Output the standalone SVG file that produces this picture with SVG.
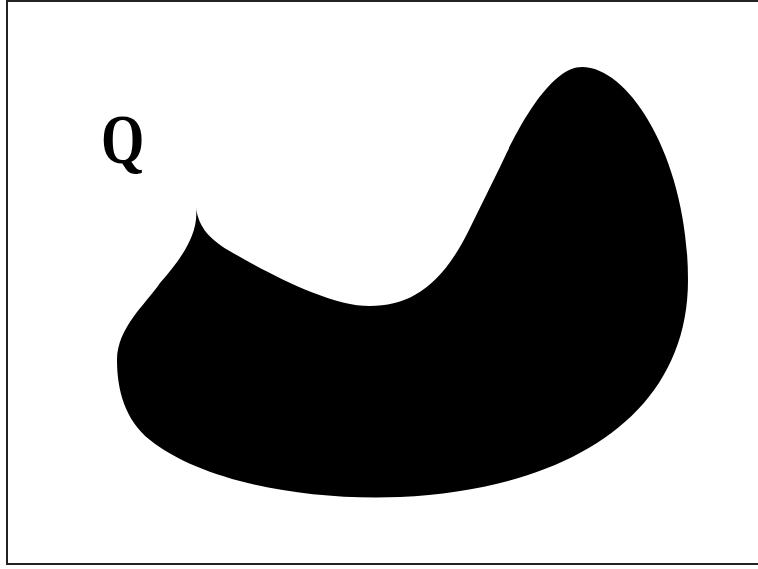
<svg xmlns="http://www.w3.org/2000/svg" width="758" height="569" viewBox="0 0 758 569">
<style>
.frame{fill:#fff;stroke:#222;stroke-width:2}
.blob{fill:#000;stroke:none}
.lbl{font-family:'Liberation Serif','Times New Roman',Times,serif;font-weight:700;font-size:64px;fill:#000}
</style>
<rect class="frame" x="7" y="1" width="760" height="563"/>
<g id="blob">
<path class="blob" d="M196,208 C199,228 210,240 233,253 C270,274 330,306 370,306 C408,306 440,288 468,232 L500,167 C508,150 545,67 582,67 C630,67 688,160 688,280 C688,420 560,490 400,497 C300,501 200,480 150,440 C125,420 117,390 117,360 C117,328 145,305 160,283 C180,260 199,235 196,208 Z"/>
</g>
<g id="label"><text class="lbl" transform="translate(101,163) scale(0.87,1.08)" x="0" y="0">Q</text></g>
</svg>
